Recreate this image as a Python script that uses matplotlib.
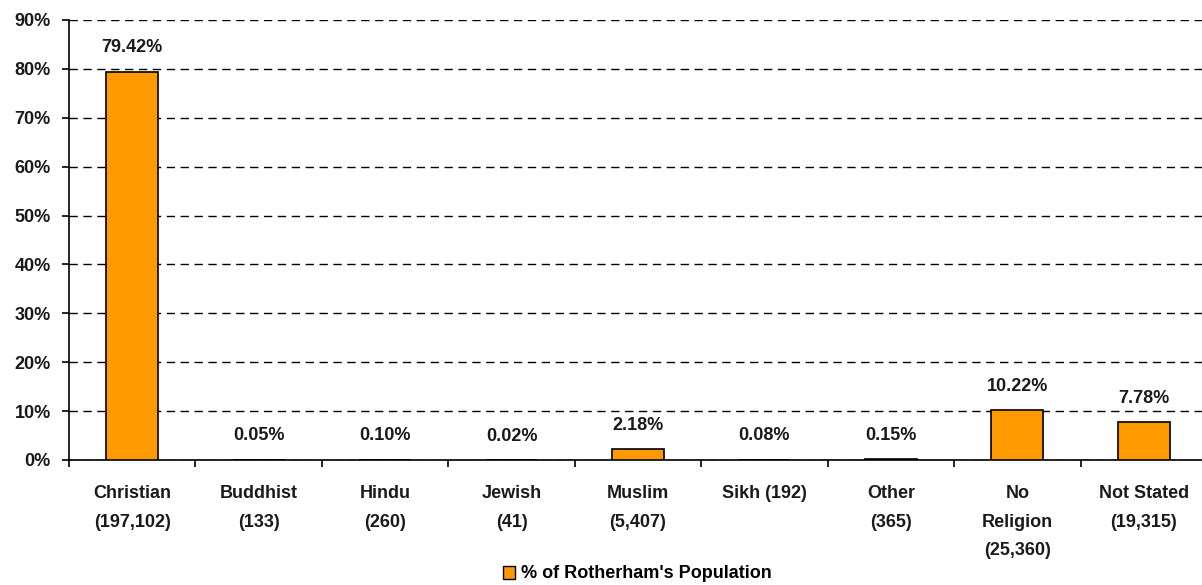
import numpy as np
import matplotlib
matplotlib.use("Agg")
import matplotlib.pyplot as plt
from matplotlib.patches import Patch

plt.rcParams['font.family'] = ['Liberation Sans', 'DejaVu Sans']

categories = ['Christian\n(197,102)', 'Buddhist\n(133)', 'Hindu\n(260)', 'Jewish\n(41)',
              'Muslim\n(5,407)', 'Sikh (192)', 'Other\n(365)', 'No\nReligion\n(25,360)',
              'Not Stated\n(19,315)']
percent = [79.42, 0.05, 0.10, 0.02, 2.18, 0.08, 0.15, 10.22, 7.78]
yticks = [0, 10, 20, 30, 40, 50, 60, 70, 80, 90]

fs = 13
fig = plt.figure(figsize=(12.02, 5.85), dpi=100)
ax = fig.add_axes([69/1202, 1 - 460/585, 1138/1202, 440/585])

x = np.arange(len(categories))
ax.bar(x, percent, width=0.41, color='#ff9900', edgecolor='black', linewidth=1.2, zorder=3)

for xi, v in zip(x, percent):
    ax.annotate('%.2f%%' % v, (xi, v), xytext=(0, 11), textcoords='offset points',
                ha='center', va='bottom', fontsize=fs, fontweight='bold', color='#1a1a1a')

ax.set_xlim(-0.5, len(categories) - 0.5)
ax.set_ylim(0, 90)
ax.set_yticks(yticks)
ax.set_yticklabels(['%d%%' % t for t in yticks], fontsize=fs, fontweight='bold', color='#1a1a1a')
ax.yaxis.grid(True, linestyle=(0, (6, 4)), color='black', linewidth=1.0, zorder=0)

ax.set_xticks(np.arange(len(categories) + 1) - 0.5)
ax.set_xticklabels([])
ax.set_xticks(x, minor=True)
ax.set_xticklabels(categories, minor=True, fontsize=fs, fontweight='bold', linespacing=1.9,
                   color='#1a1a1a')
ax.tick_params(axis='x', which='minor', length=0, pad=18)
ax.tick_params(axis='x', which='major', length=5, width=1.2)
ax.tick_params(axis='y', length=5, width=1.2, pad=8)

for s in ['top', 'right']:
    ax.spines[s].set_visible(False)
ax.spines['left'].set_linewidth(1.2)
ax.spines['bottom'].set_linewidth(1.2)

fig.legend(handles=[Patch(facecolor='#ff9900', edgecolor='black', label="% of Rotherham's Population")],
           loc='center', bbox_to_anchor=(0.53, 1 - 574/585), frameon=False,
           prop={'weight': 'bold', 'size': fs}, handlelength=0.7, handleheight=0.7,
           handletextpad=0.3, borderpad=0)

fig.savefig('out.png', dpi=100)
